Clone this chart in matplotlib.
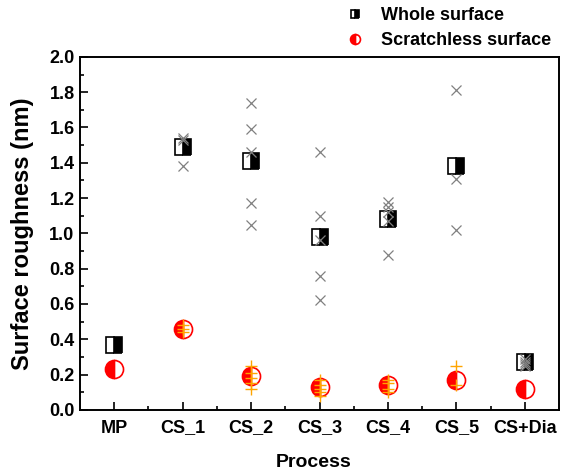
import matplotlib.pyplot as plt
from matplotlib.ticker import MultipleLocator

plt.rcParams['font.family'] = ['Liberation Sans', 'DejaVu Sans']
plt.rcParams['font.weight'] = 'bold'

# data
processes = ['MP', 'CS_1', 'CS_2', 'CS_3', 'CS_4', 'CS_5', 'CS+Dia']
whole_mean = [0.37, 1.49, 1.41, 0.98, 1.08, 1.38, 0.27]
scratchless_mean = [0.23, 0.46, 0.19, 0.13, 0.14, 0.17, 0.12]

# individual measurements (whole surface)
whole_points = [
    [],
    [1.54, 1.53, 1.38],
    [1.74, 1.59, 1.46, 1.17, 1.05],
    [1.46, 1.10, 0.96, 0.76, 0.62],
    [1.18, 1.15, 1.12, 1.07, 0.88],
    [1.81, 1.31, 1.02],
    [0.29, 0.27, 0.26, 0.25],
]
# individual measurements (scratchless surface)
scratchless_points = [
    [],
    [0.48, 0.46, 0.44],
    [0.25, 0.21, 0.18, 0.15, 0.12],
    [0.17, 0.14, 0.12, 0.10, 0.08],
    [0.17, 0.15, 0.12, 0.10],
    [0.25, 0.14],
    [],
]

x = list(range(1, len(processes) + 1))

fig, ax = plt.subplots(figsize=(5.64, 4.70), dpi=100)
fig.subplots_adjust(left=0.142, right=0.991, bottom=0.128, top=0.879)

ax.plot(x, whole_mean, linestyle='none', marker='s', markersize=11.5, fillstyle='right',
        markerfacecolor='black', markerfacecoloralt='white', markeredgecolor='black',
        markeredgewidth=1.2, label='Whole surface', zorder=3)
ax.plot(x, scratchless_mean, linestyle='none', marker='o', markersize=13, fillstyle='left',
        markerfacecolor='red', markerfacecoloralt='white', markeredgecolor='red',
        markeredgewidth=1.2, label='Scratchless surface', zorder=3)

for xi, pts in zip(x, whole_points):
    ax.plot([xi] * len(pts), pts, linestyle='none', marker='x', markersize=7,
            color='gray', markeredgewidth=0.9, zorder=4)
for xi, pts in zip(x, scratchless_points):
    ax.plot([xi] * len(pts), pts, linestyle='none', marker='+', markersize=8,
            color='orange', markeredgewidth=1.0, zorder=4)

ax.set_xlim(0.5, 7.5)
ax.set_ylim(0, 2.0)
ax.set_xticks(x)
ax.set_xticklabels(processes)
ax.set_xticks([i + 0.5 for i in x[:-1]], minor=True)
ax.yaxis.set_major_locator(MultipleLocator(0.2))
ax.yaxis.set_minor_locator(MultipleLocator(0.1))
ax.tick_params(which='both', direction='in', labelsize=13, width=1.2)
ax.tick_params(which='major', length=6)
ax.tick_params(which='minor', length=3)
ax.tick_params(axis='x', which='major', pad=7)
ax.tick_params(axis='y', which='major', pad=4)
for s in ax.spines.values():
    s.set_linewidth(1.4)

ax.set_xlabel('Process', fontsize=14, fontweight='bold')
ax.set_ylabel('Surface roughness (nm)', fontsize=17, fontweight='bold')
ax.xaxis.set_label_coords(0.487, -0.125)
ax.yaxis.set_label_coords(-0.097, 0.5)

ax.legend(loc='lower left', bbox_to_anchor=(0.503, 0.975), frameon=False, fontsize=13,
          markerscale=0.55, handletextpad=0.45, labelspacing=0.45)

fig.savefig('out.png', dpi=100)
